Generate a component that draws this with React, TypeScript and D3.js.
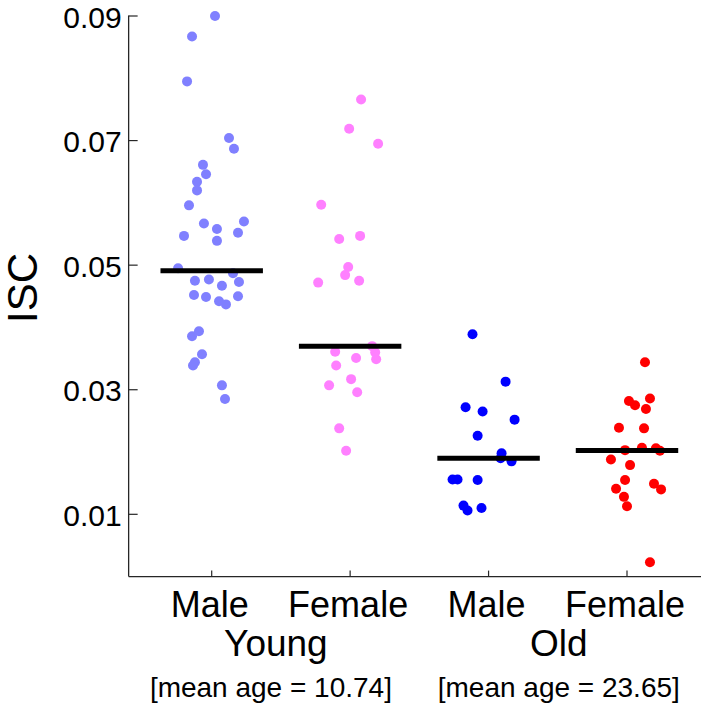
import React from "react";
import * as d3 from "d3";

const groupLabels = ["Male", "Female", "Male", "Female"];
const ageLabels = ["Young", "Old"];
const meanAgeLabels = ["[mean age = 10.74]", "[mean age = 23.65]"];
const yTickValues = [0.01, 0.03, 0.05, 0.07, 0.09];
const groupColors = ["#8080ff", "#ff80ff", "#0000ff", "#ff0000"];

// ISC values per group
const youngMaleISC = [0.09, 0.0867, 0.0795, 0.0704, 0.0687, 0.0661, 0.0646, 0.0634, 0.062, 0.0596, 0.0567, 0.057, 0.0558, 0.0547, 0.0552, 0.0539, 0.0495, 0.0487, 0.0475, 0.0477, 0.0473, 0.0467, 0.0452, 0.0449, 0.0442, 0.0437, 0.045, 0.0394, 0.0386, 0.0357, 0.0344, 0.0339, 0.0307, 0.0285];
const youngMaleJitter = [0.024, -0.142, -0.178, 0.125, 0.161, -0.063, -0.041, -0.106, -0.106, -0.164, -0.056, 0.233, 0.038, -0.2, 0.19, 0.038, -0.243, 0.154, -0.121, -0.02, 0.197, 0.074, -0.128, -0.041, 0.053, 0.103, 0.19, -0.092, -0.142, -0.07, -0.121, -0.135, 0.074, 0.096];

const youngFemaleISC = [0.0766, 0.0719, 0.0695, 0.0597, 0.0542, 0.0547, 0.0497, 0.0484, 0.0472, 0.0475, 0.037, 0.036, 0.0349, 0.0361, 0.0351, 0.0339, 0.0317, 0.0307, 0.0296, 0.0238, 0.0202];
const youngFemaleJitter = [0.079, -0.007, 0.202, -0.209, -0.079, 0.072, -0.014, -0.036, -0.231, 0.065, 0.159, 0.181, 0.188, -0.108, 0.043, -0.101, 0.007, -0.152, 0.051, -0.079, -0.029];

const oldMaleISC = [0.0389, 0.0313, 0.0272, 0.0265, 0.0252, 0.0226, 0.0198, 0.019, 0.0185, 0.0156, 0.0156, 0.0155, 0.0114, 0.0106, 0.011];
const oldMaleJitter = [-0.116, 0.123, -0.166, -0.043, 0.188, -0.079, 0.094, 0.087, 0.166, -0.26, -0.224, -0.079, -0.181, -0.152, -0.051];

const oldFemaleISC = [0.0344, 0.0282, 0.0275, 0.0286, 0.0269, 0.0239, 0.0238, 0.0203, 0.0207, 0.0206, 0.0202, 0.0188, 0.0179, 0.0155, 0.0149, 0.014, 0.0141, 0.0128, 0.0113, 0.0023];
const oldFemaleJitter = [0.13, 0.014, 0.058, 0.166, 0.137, -0.058, 0.123, -0.014, 0.108, 0.209, 0.238, -0.116, 0.022, -0.014, 0.195, 0.246, -0.079, -0.022, 0.0, 0.166];

const groupValues = [youngMaleISC, youngFemaleISC, oldMaleISC, oldFemaleISC];
const groupJitters = [youngMaleJitter, youngFemaleJitter, oldMaleJitter, oldFemaleJitter];

const W = 701;
const H = 704;
const FONT = "'Liberation Sans', Arial, Helvetica, sans-serif";
const AXIS = "#262626";
const meanAgeShift = [-10, 1];
const ageShift = [-5, 1];

export default function App() {
  const x = d3.scaleLinear().domain([1, 4]).range([211.7, 627]);
  const y = d3.scaleLinear().domain([0, 0.09]).range([576.6, 16]);
  const x0 = x(0.4);
  const xEnd = x(4.6);
  const yBottom = y(0);
  const yTop = y(0.09);
  const halfLine = 0.37;

  return (
    <svg
      width={W}
      height={H}
      style={{ position: "absolute", left: 0, top: 0, background: "#fff" }}
      fontFamily={FONT}
    >
      {groupValues.map((vals, gi) =>
        vals.map((v, i) => (
          <circle
            key={`p-${gi}-${i}`}
            cx={x(gi + 1 + groupJitters[gi][i])}
            cy={y(v)}
            r={5}
            fill={groupColors[gi]}
          />
        ))
      )}
      {groupValues.map((vals, gi) => {
        const m = d3.median(vals) as number;
        return (
          <line
            key={`m-${gi}`}
            x1={x(gi + 1 - halfLine)}
            x2={x(gi + 1 + halfLine)}
            y1={y(m)}
            y2={y(m)}
            stroke="#000"
            strokeWidth={5}
          />
        );
      })}
      <line x1={x0} x2={x0} y1={yTop - 0.5} y2={yBottom} stroke={AXIS} strokeWidth={1.3} />
      <line x1={x0} x2={xEnd} y1={yBottom} y2={yBottom} stroke={AXIS} strokeWidth={1.3} />
      {yTickValues.map((t) => (
        <g key={`yt-${t}`}>
          <line x1={x0} x2={x0 + 9} y1={y(t)} y2={y(t)} stroke={AXIS} strokeWidth={1.2} />
          <text
            x={x0 - 7}
            y={y(t) + 1}
            textAnchor="end"
            dominantBaseline="central"
            fontSize={30}
            fill="#000"
          >
            {d3.format(".2f")(t)}
          </text>
        </g>
      ))}
      {groupLabels.map((lab, gi) => (
        <g key={`xt-${gi}`}>
          <line x1={x(gi + 1)} x2={x(gi + 1)} y1={yBottom} y2={yBottom - 6} stroke={AXIS} strokeWidth={1.2} />
          <text x={x(gi + 1) - 2} y={617} textAnchor="middle" fontSize={36} fill="#000">
            {lab}
          </text>
        </g>
      ))}
      {ageLabels.map((lab, ai) => (
        <text
          key={`age-${ai}`}
          x={(x(ai * 2 + 1) + x(ai * 2 + 2)) / 2 + ageShift[ai]}
          y={656}
          textAnchor="middle"
          fontSize={37}
          fill="#000"
        >
          {lab}
        </text>
      ))}
      {meanAgeLabels.map((lab, ai) => (
        <text
          key={`ma-${ai}`}
          x={(x(ai * 2 + 1) + x(ai * 2 + 2)) / 2 + meanAgeShift[ai]}
          y={697}
          textAnchor="middle"
          fontSize={28}
          fill="#000"
        >
          {lab}
        </text>
      ))}
      <text
        transform={`translate(${37},${288}) rotate(-90)`}
        textAnchor="middle"
        fontSize={42}
        fill="#000"
      >
        ISC
      </text>
    </svg>
  );
}
